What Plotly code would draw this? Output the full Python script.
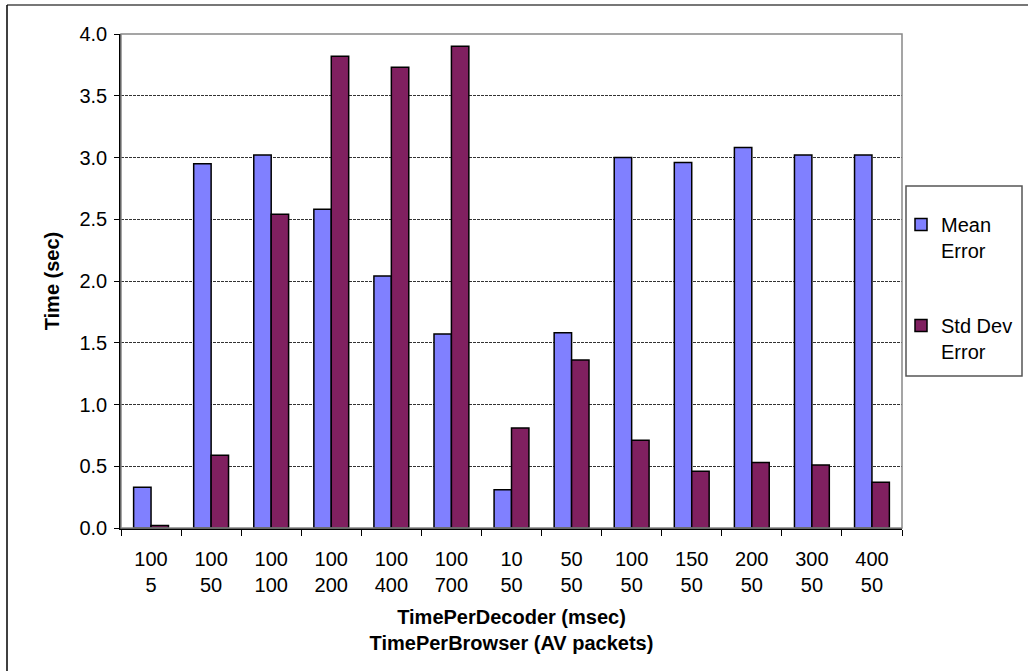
import plotly.graph_objects as go

# Decoder interval (msec) / browser buffer (AV packets) for each run
time_per_decoder = ["100", "100", "100", "100", "100", "100", "10", "50", "100", "150", "200", "300", "400"]
time_per_browser = ["5", "50", "100", "200", "400", "700", "50", "50", "50", "50", "50", "50", "50"]

mean_error = [0.33, 2.95, 3.02, 2.58, 2.04, 1.57, 0.31, 1.58, 3.00, 2.96, 3.08, 3.02, 3.02]
std_dev_error = [0.02, 0.59, 2.54, 3.82, 3.73, 3.90, 0.81, 1.36, 0.71, 0.46, 0.53, 0.51, 0.37]

# two-line tick labels; runs are keyed by position since some labels repeat
tick_labels = [f"{d}<br>{b}" for d, b in zip(time_per_decoder, time_per_browser)]
run_index = list(range(len(tick_labels)))

FONT = "Liberation Sans, Arial, sans-serif"
FS = 20

# plot-area geometry in pixels, used to place decorations in paper coordinates
W, H = 1028, 671
L, R, T, B = 121, 902, 34, 528


def px_x(x):
    return (x - L) / (R - L)


def px_y(y):
    return (B - y) / (B - T)


fig = go.Figure()
fig.add_trace(go.Bar(
    x=run_index, y=mean_error, name="Mean<br>Error", legendgroup="mean",
    marker=dict(color="#8080FF", line=dict(color="black", width=1.5)),
))
fig.add_trace(go.Bar(
    x=run_index, y=std_dev_error, name="Std Dev<br>Error", legendgroup="std",
    marker=dict(color="#802060", line=dict(color="black", width=1.5)),
))

shapes = [
    # plot-area frame (grey top/right)
    dict(type="rect", xref="paper", yref="paper", x0=0, x1=1, y0=0, y1=1,
         line=dict(color="#888888", width=1.5), layer="above"),
    # legend frame
    dict(type="rect", xref="paper", yref="paper", x0=px_x(906), x1=px_x(1022),
         y0=px_y(376), y1=px_y(186), line=dict(color="#555555", width=1.5)),
    # outer chart border
    dict(type="line", xref="paper", yref="paper", x0=px_x(7), x1=px_x(W + 5),
         y0=px_y(5), y1=px_y(5), line=dict(color="#777777", width=2)),
    dict(type="line", xref="paper", yref="paper", x0=px_x(7), x1=px_x(7),
         y0=px_y(5), y1=px_y(H + 5), line=dict(color="black", width=1.5)),
]

fig.update_layout(
    width=W, height=H,
    margin=dict(l=L, r=W - R, t=T, b=H - B, autoexpand=False),
    paper_bgcolor="white", plot_bgcolor="white",
    font=dict(family=FONT, size=FS, color="black"),
    barmode="group", bargap=0.42, bargroupgap=0,
    showlegend=True,
    legend=dict(
        x=px_x(901), y=px_y(205), xanchor="left", yanchor="top",
        bgcolor="rgba(0,0,0,0)", borderwidth=0,
        font=dict(family=FONT, size=FS, color="black"),
        traceorder="grouped", tracegroupgap=46, valign="top",
        itemwidth=30,
    ),
    shapes=shapes,
)

fig.update_xaxes(
    type="category", tickmode="array", tickvals=run_index, ticktext=tick_labels,
    tickson="boundaries", ticks="outside", ticklen=6,
    tickcolor="black", tickwidth=1, showline=True, linecolor="black", linewidth=1.5,
    showgrid=False, ticklabelstandoff=12, automargin=False,
    tickfont=dict(family=FONT, size=FS),
    title=dict(text="<b>TimePerDecoder (msec)<br>TimePerBrowser (AV packets)</b>",
               font=dict(family=FONT, size=FS), standoff=15),
)
fig.update_yaxes(
    range=[0, 4], dtick=0.5, tickformat=".1f", ticks="outside", ticklen=5,
    tickcolor="black", tickwidth=1, showline=True, linecolor="black", linewidth=1.5,
    showgrid=True, gridcolor="#333333", gridwidth=1, griddash="3px,1px",
    zeroline=False, ticklabelstandoff=3, automargin=False,
    tickfont=dict(family=FONT, size=FS),
    title=dict(text="<b>Time (sec)</b>", font=dict(family=FONT, size=FS), standoff=14),
)

fig.write_html("out.html")
